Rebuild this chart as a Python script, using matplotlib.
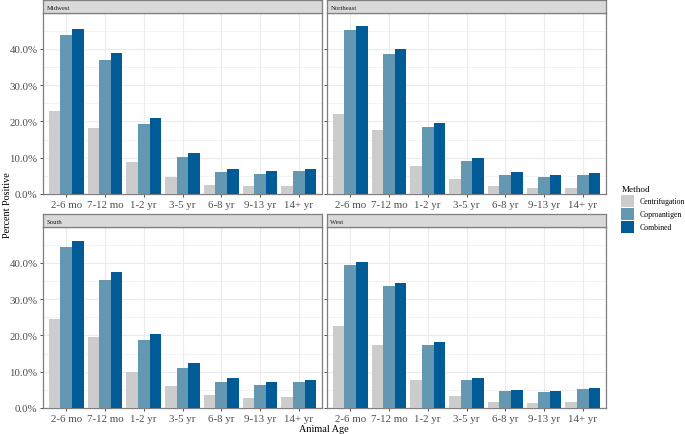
import numpy as np
import matplotlib
matplotlib.use('Agg')
import matplotlib.pyplot as plt
from matplotlib.patches import Patch
from matplotlib.ticker import FuncFormatter, MultipleLocator

plt.rcParams['font.family'] = ['Liberation Serif', 'DejaVu Serif']

ages = ['2-6 mo', '7-12 mo', '1-2 yr', '3-5 yr', '6-8 yr', '9-13 yr', '14+ yr']
methods = ['Centrifugation', 'Coproantigen', 'Combined']
colors = ['#cccccc', '#6497b1', '#005b96']
regions = ['Midwest', 'Northeast', 'South', 'West']

# percent positive, per region: [centrifugation, coproantigen, combined]
midwest = [
    [22.9, 18.2, 8.7, 4.8, 2.6, 2.2, 2.2],
    [43.9, 36.9, 19.3, 10.1, 6.1, 5.6, 6.3],
    [45.4, 38.9, 20.9, 11.2, 6.8, 6.4, 7.0],
]
northeast = [
    [22.1, 17.7, 7.8, 4.0, 2.1, 1.7, 1.7],
    [45.1, 38.5, 18.6, 9.1, 5.3, 4.6, 5.3],
    [46.2, 40.0, 19.7, 9.9, 6.0, 5.2, 5.8],
]
south = [
    [24.5, 19.5, 9.9, 6.1, 3.6, 2.8, 2.9],
    [44.3, 35.2, 18.7, 10.9, 7.2, 6.3, 7.2],
    [46.0, 37.5, 20.4, 12.4, 8.2, 7.2, 7.8],
]
west = [
    [22.7, 17.3, 7.6, 3.4, 1.6, 1.5, 1.7],
    [39.4, 33.5, 17.5, 7.8, 4.6, 4.4, 5.3],
    [40.3, 34.5, 18.3, 8.3, 4.9, 4.8, 5.6],
]
data = {'Midwest': midwest, 'Northeast': northeast, 'South': south, 'West': west}

W, H = 685, 435
fig = plt.figure(figsize=(6.85, 4.35), dpi=100)

# panel boxes in pixels: (left, top, width, height)
lefts = [43, 327, 43, 327]
tops = [14, 14, 228, 228]
pw, ph = 279, 181
strip_h = 13

x = np.arange(len(ages))
bw = 0.3
for i, reg in enumerate(regions):
    l, t = lefts[i], tops[i]
    ax = fig.add_axes([l / W, 1 - (t + ph) / H, pw / W, ph / H])
    for j in range(3):
        ax.bar(x + (j - 1) * bw, data[reg][j], width=bw, color=colors[j],
               linewidth=0, zorder=3)
    ax.set_xlim(-0.6, 6.6)
    ax.set_ylim(0, 49.9)
    ax.yaxis.set_major_locator(MultipleLocator(10))
    ax.yaxis.set_minor_locator(MultipleLocator(5))
    ax.yaxis.set_major_formatter(FuncFormatter(lambda v, p: f'{v:.1f}%'))
    ax.set_xticks(x)
    ax.set_xticklabels(ages)
    ax.grid(True, which='major', color='#ebebeb', linewidth=0.8, zorder=0)
    ax.grid(True, which='minor', axis='y', color='#ebebeb', linewidth=0.4, zorder=0)
    ax.tick_params(which='minor', length=0)
    ax.tick_params(which='major', length=2.5, width=0.6, color='#333333',
                   labelsize=7.8, labelcolor='#4d4d4d', pad=1.5)
    if i % 2 == 1:
        ax.tick_params(axis='y', labelleft=False)
    for s in ax.spines.values():
        s.set_color('#7f7f7f')
        s.set_linewidth(0.9)

    sax = fig.add_axes([l / W, 1 - t / H, pw / W, strip_h / H])
    sax.set_facecolor('#d9d9d9')
    sax.set_xticks([])
    sax.set_yticks([])
    for s in sax.spines.values():
        s.set_color('#7f7f7f')
        s.set_linewidth(0.9)
    sax.text(0.012, 0.45, reg, transform=sax.transAxes, fontsize=4.8,
             va='center', ha='left', color='#1a1a1a')

fig.text(324 / W, 1 - 429.5 / H, 'Animal Age', ha='center', va='center', fontsize=7.3)
fig.text(8 / W, 1 - 205 / H, 'Percent Positive', ha='center', va='center',
         rotation=90, fontsize=7.3)

handles = [Patch(facecolor=c, edgecolor='none') for c in colors]
leg = fig.legend(handles, methods, title='Method', loc='upper left',
                 bbox_to_anchor=(616 / W, 1 - 181 / H), frameon=False,
                 fontsize=5.6, title_fontsize=6.6, handlelength=1.6,
                 handleheight=2.0, handletextpad=0.7, labelspacing=0.15,
                 borderpad=0.2)
leg._legend_box.align = 'left'

fig.savefig('out.png', dpi=100)
